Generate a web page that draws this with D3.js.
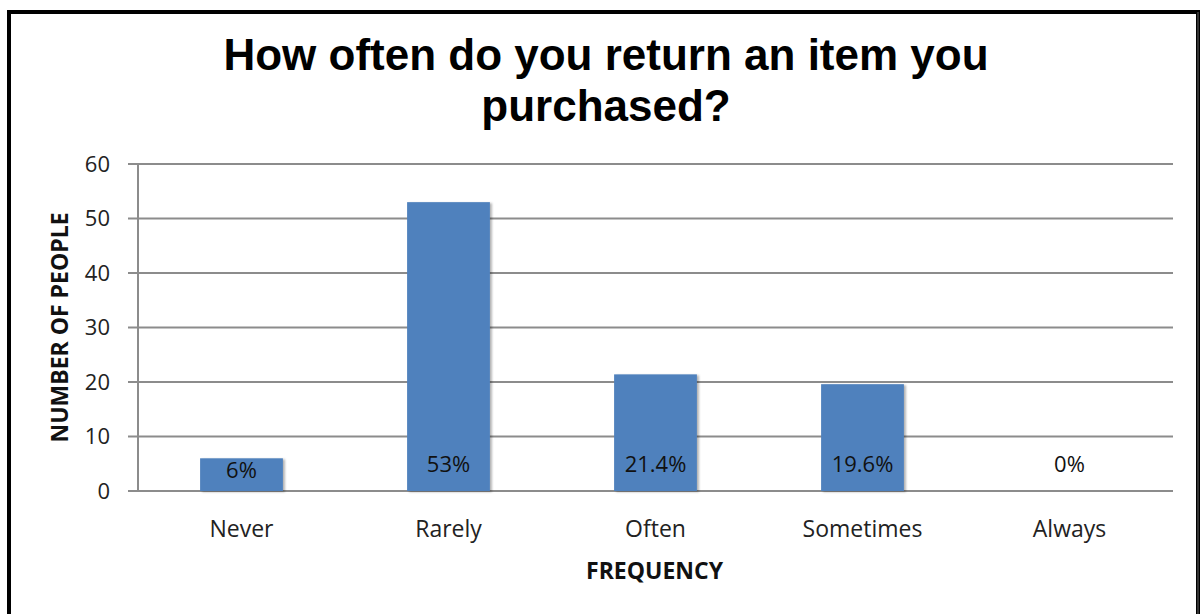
<!DOCTYPE html>
<html>
<head>
<meta charset="utf-8">
<script src="https://cdn.jsdelivr.net/npm/d3@7"></script>
<style>
  html, body { margin: 0; padding: 0; background: #fff; }
  svg { display: block; }
</style>
</head>
<body>
<svg id="chart" width="1200" height="614"></svg>
<script>
// Survey responses: how often people return purchased items
const categories = ["Never", "Rarely", "Often", "Sometimes", "Always"];
const values = [6, 53, 21.4, 19.6, 0];
const yTicks = [0, 10, 20, 30, 40, 50, 60];
const titleLines = ["How often do you return an item you", "purchased?"];

const svg = d3.select("#chart");
const W = 1200, H = 614;
const margin = { left: 138, right: 27, top: 164, bottom: 123 };
const plotW = W - margin.left - margin.right;
const plotH = H - margin.top - margin.bottom;
const bodyFont = "Open Sans, sans-serif";

// Frame
svg.append("rect").attr("x", 0).attr("y", 0).attr("width", W).attr("height", H).attr("fill", "#fff");
svg.append("path")
  .attr("d", `M9,614 V12 H1198 V614`)
  .attr("fill", "none").attr("stroke", "#000").attr("stroke-width", 4);
svg.append("line").attr("x1", 1198).attr("x2", 1198).attr("y1", 12).attr("y2", 614)
  .attr("stroke", "#333").attr("stroke-width", 2);

// Title
svg.append("g").selectAll("text").data(titleLines).join("text")
  .attr("x", 606).attr("y", (d, i) => 70 + i * 51)
  .attr("text-anchor", "middle")
  .attr("font-family", "Liberation Sans, Arial, sans-serif")
  .attr("font-weight", "bold").attr("font-size", 44)
  .attr("fill", "#000")
  .text(d => d);

const x = d3.scaleBand().domain(categories).range([0, plotW]).paddingInner(0.6).paddingOuter(0.3);
const y = d3.scaleLinear().domain([0, 60]).range([plotH, 0]);

const g = svg.append("g").attr("transform", `translate(${margin.left},${margin.top})`);

// Gridlines
g.append("g").selectAll("line").data(yTicks).join("line")
  .attr("x1", -10).attr("x2", plotW)
  .attr("y1", d => y(d)).attr("y2", d => y(d))
  .attr("stroke", "#8c8c8c").attr("stroke-width", 2);

// Y axis line
g.append("line").attr("x1", 0).attr("x2", 0).attr("y1", 0).attr("y2", plotH)
  .attr("stroke", "#8c8c8c").attr("stroke-width", 2);

// Y tick labels
const yAxis = d3.axisLeft(y).tickValues(yTicks).tickSize(0).tickPadding(28);
const ya = g.append("g").call(yAxis);
ya.select(".domain").remove();
ya.selectAll("text")
  .attr("font-family", bodyFont).attr("font-size", 22)
  .attr("fill", "#222");

// Bar shadow
const defs = svg.append("defs");
const f = defs.append("filter").attr("id", "shadow").attr("x", "-10%").attr("y", "-10%").attr("width", "130%").attr("height", "130%");
f.append("feDropShadow").attr("dx", 2).attr("dy", 1).attr("stdDeviation", 1.2).attr("flood-color", "#000").attr("flood-opacity", 0.3);

const rows = values.map((v, i) => ({ c: categories[i], v }));

// Bars
g.append("g").selectAll("rect").data(rows.filter(d => d.v > 0)).join("rect")
  .attr("x", d => x(d.c)).attr("width", x.bandwidth())
  .attr("y", d => y(d.v)).attr("height", d => y(0) - y(d.v))
  .attr("fill", "#4f81bd")
  .attr("filter", "url(#shadow)");

// Data labels (inside base of each bar)
g.append("g").selectAll("text").data(rows).join("text")
  .attr("x", d => x(d.c) + x.bandwidth() / 2)
  .attr("y", d => (d.v > 0 ? Math.max(y(0) - 27, y(d.v) + 12) : y(0) - 27))
  .attr("dy", "0.35em")
  .attr("text-anchor", "middle")
  .attr("font-family", bodyFont).attr("font-size", 22)
  .attr("fill", "#111")
  .text(d => d.v + "%");

// X category labels
const xa = g.append("g").attr("transform", `translate(0,${plotH})`)
  .call(d3.axisBottom(x).tickSize(0).tickPadding(30));
xa.select(".domain").remove();
xa.selectAll("text")
  .attr("font-family", bodyFont).attr("font-size", 23)
  .attr("fill", "#222");

// Axis titles
svg.append("text").attr("x", margin.left + plotW / 2 - 1).attr("y", 579)
  .attr("text-anchor", "middle")
  .attr("font-family", bodyFont).attr("font-weight", "bold").attr("font-size", 23)
  .attr("fill", "#111").text("FREQUENCY");

svg.append("text")
  .attr("transform", `translate(68,${margin.top + plotH / 2}) rotate(-90)`)
  .attr("text-anchor", "middle")
  .attr("font-family", bodyFont).attr("font-weight", "bold").attr("font-size", 23)
  .attr("fill", "#111").text("NUMBER OF PEOPLE");
</script>
</body>
</html>
